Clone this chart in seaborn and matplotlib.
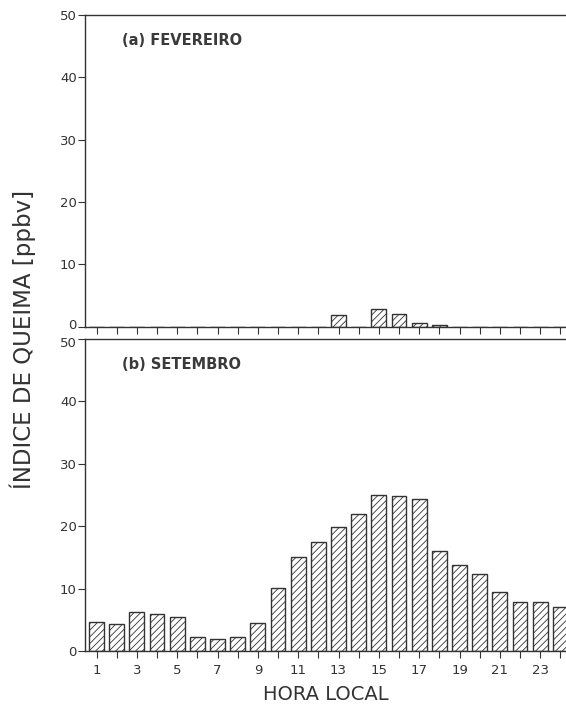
import numpy as np
import pandas as pd
import matplotlib
matplotlib.use("Agg")
import matplotlib.pyplot as plt
import matplotlib.transforms as mtransforms
import seaborn as sns

# hour of day (local time)
horas = list(range(1, 25))

# burning index [ppbv], February (a) and September (b)
fevereiro = [0, 0, 0, 0, 0, 0, 0, 0, 0, 0, 0, 0,
             1.9, 0, 2.8, 2.1, 0.6, 0.3, 0, 0, 0, 0, 0, 0]
setembro = [4.6, 4.4, 6.2, 6.0, 5.4, 2.2, 1.9, 2.2, 4.5, 10.1, 15.0, 17.4,
            19.9, 21.9, 25.0, 24.8, 24.4, 16.1, 13.8, 12.3, 9.5, 7.8, 7.8, 7.0]

rotulos = ["(a) FEVEREIRO", "(b) SETEMBRO"]

sns.set_theme(style="white")
plt.rcParams["font.family"] = ["DejaVu Sans"]
plt.rcParams["hatch.linewidth"] = 0.6
plt.rcParams["hatch.color"] = "#333333"

cor = "#333333"
fig = plt.figure(figsize=(5.66, 7.07), dpi=100)
ax_a = fig.add_axes([0.1502, 0.5378, 0.8498, 0.4410])
ax_b = fig.add_axes([0.1502, 0.0792, 0.8498, 0.4413])

for ax, valores, rotulo in zip([ax_a, ax_b], [fevereiro, setembro], rotulos):
    df = pd.DataFrame({"hora": horas, "indice": valores})
    sns.barplot(data=df, x="hora", y="indice", ax=ax, native_scale=True,
                width=0.74, color="white", edgecolor=cor, linewidth=1.0,
                hatch="/////", errorbar=None)
    ax.set_xlim(0.43, 24.28)
    ax.set_ylim(0, 50)
    ax.set_yticks([0, 10, 20, 30, 40, 50])
    ax.set_xticks(horas)
    ax.set_xlabel("")
    ax.set_ylabel("")
    for s in ["left", "bottom", "top"]:
        ax.spines[s].set_visible(True)
        ax.spines[s].set_color(cor)
        ax.spines[s].set_linewidth(1.0)
    ax.spines["right"].set_visible(False)
    ax.tick_params(axis="both", direction="out", length=5, width=0.8,
                   color=cor, labelsize=9.5, labelcolor=cor, pad=1.0,
                   bottom=True, left=True)
    ax.text(0.077, 0.917, rotulo, transform=ax.transAxes, fontsize=10.5,
            fontweight="bold", color="#3a3a3a", ha="left", va="center")

ax_a.set_xticklabels([])
ax_b.set_xticklabels([str(h) if h % 2 == 1 else "" for h in horas])
ax_b.tick_params(axis="x", pad=4)
ax_b.set_xlabel("HORA LOCAL", fontsize=14, color=cor, labelpad=6)

# the "0" of panel (a) and the "50" of panel (b) sit very close: nudge apart
fig.canvas.draw()
sobe = mtransforms.ScaledTranslation(0, 3 / 100, fig.dpi_scale_trans)
desce = mtransforms.ScaledTranslation(0, -3 / 100, fig.dpi_scale_trans)
lbl = ax_a.yaxis.get_major_ticks()[0].label1
lbl.set_transform(lbl.get_transform() + sobe)
lbl = ax_b.yaxis.get_major_ticks()[-1].label1
lbl.set_transform(lbl.get_transform() + desce)

fig.text(0.040, 0.5205, "ÍNDICE DE QUEIMA [ppbv]", rotation=90, fontsize=16.5,
         color=cor, ha="center", va="center")

fig.savefig("out.png", dpi=100, facecolor="white")
